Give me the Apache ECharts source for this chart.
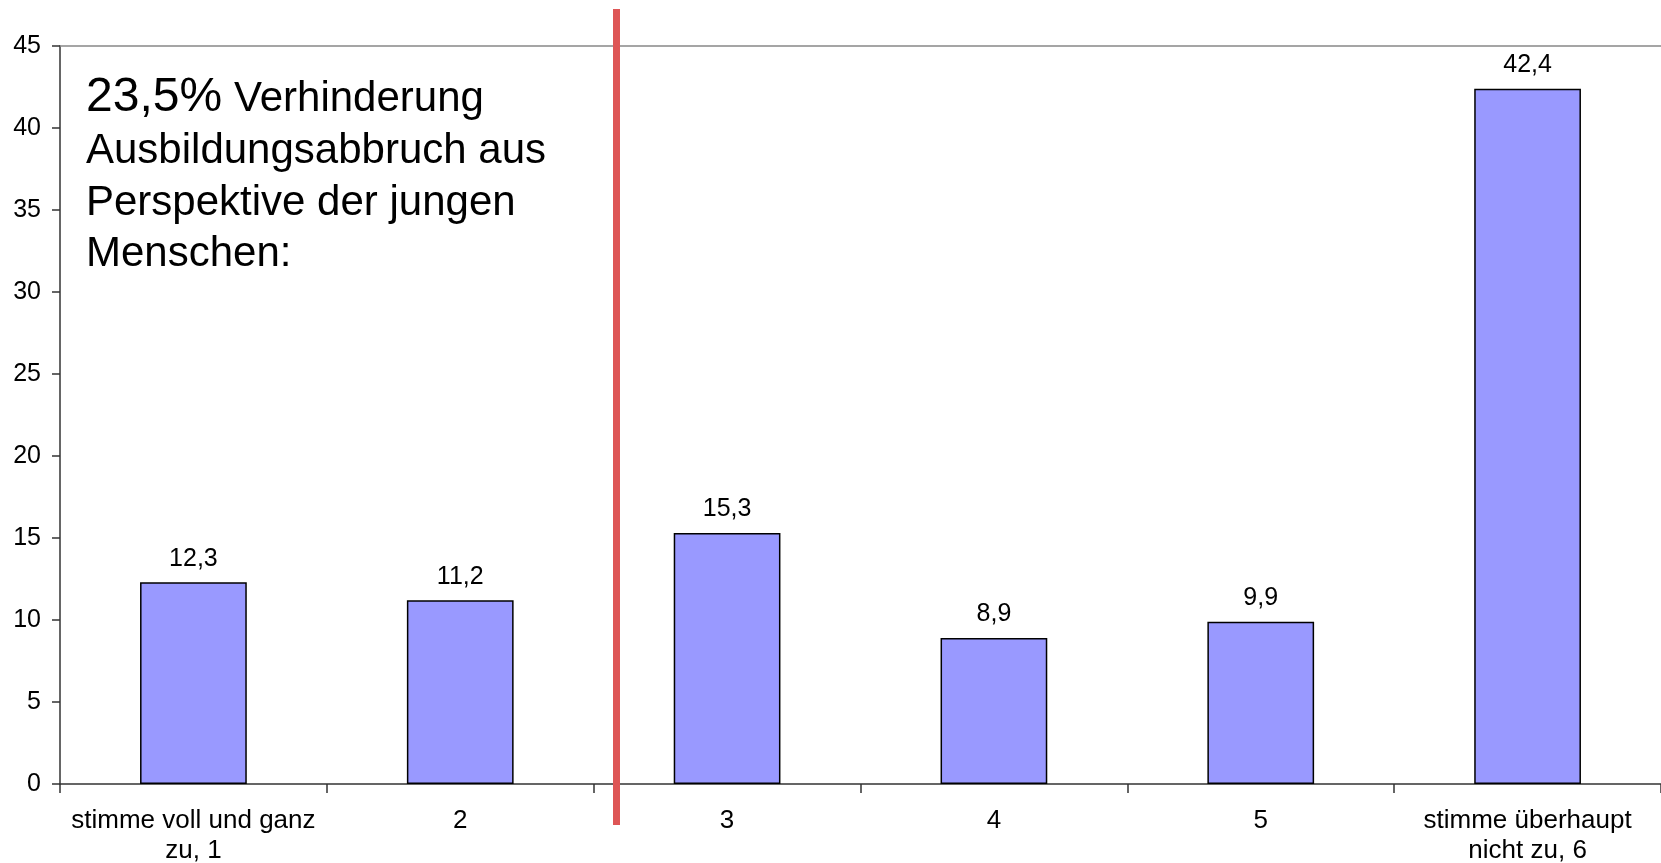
<!DOCTYPE html>
<html>
<head>
<meta charset="utf-8">
<style>
  html, body { margin: 0; padding: 0; background: #fff; }
  #chart { width: 1661px; height: 863px; }
</style>
<script src="https://cdn.jsdelivr.net/npm/echarts@6/dist/echarts.min.js"></script>
</head>
<body>
<div id="chart"></div>
<script>
// Antwortkategorien (Skala 1 bis 6)
const categories = [
  'stimme voll und ganz\nzu, 1',
  '2',
  '3',
  '4',
  '5',
  'stimme überhaupt\nnicht zu, 6'
];
// Anteile in Prozent
const shares = [12.3, 11.2, 15.3, 8.9, 9.9, 42.4];
// Beschriftung des Hinweises
const noteValue = '23,5%';
const noteLines = ['Verhinderung', 'Ausbildungsabbruch aus', 'Perspektive der jungen', 'Menschen:'];

const FONT = "'Liberation Sans', Arial, sans-serif";
const fmt = v => String(v).replace('.', ',');
// Canvas-Mitte liegt etwa 0.3465 em über der Grundlinie
const mid = (baseline, size) => baseline - 0.3465 * size;

const chart = echarts.init(document.getElementById('chart'), null, { renderer: 'canvas' });

chart.setOption({
  backgroundColor: '#ffffff',
  animation: false,
  grid: { left: 60, right: 0, top: 46, bottom: 79, containLabel: false, outerBoundsMode: 'none' },
  xAxis: [
    {
      type: 'category',
      data: categories,
      boundaryGap: true,
      axisLine: { lineStyle: { color: '#333', width: 1.5 } },
      axisTick: { show: true, inside: false, length: 9, lineStyle: { color: '#333', width: 1.5 } },
      axisLabel: { color: '#000', fontFamily: FONT, fontSize: 26, lineHeight: 30, margin: 22, interval: 0 }
    },
    {
      type: 'category',
      position: 'top',
      data: categories,
      axisLine: { show: true, lineStyle: { color: '#888', width: 1.5 } },
      axisTick: { show: false },
      axisLabel: { show: false }
    }
  ],
  yAxis: {
    type: 'value',
    min: 0,
    max: 45,
    interval: 5,
    axisLine: { show: true, lineStyle: { color: '#333', width: 1.5 } },
    axisTick: { show: true, inside: false, length: 8, lineStyle: { color: '#333', width: 1.5 } },
    splitLine: { show: false },
    axisLabel: { color: '#000', fontFamily: FONT, fontSize: 25, margin: 19 }
  },
  series: [{
    type: 'bar',
    data: shares,
    barWidth: '40%',
    itemStyle: { color: '#9999FF', borderColor: '#000', borderWidth: 1.5 },
    label: {
      show: true,
      position: 'top',
      distance: 11,
      color: '#000',
      fontFamily: FONT,
      fontSize: 25,
      formatter: p => fmt(p.value)
    }
  }],
  graphic: [
    // Trennlinie zwischen Kategorie 2 und 3
    { type: 'rect', shape: { x: 613, y: 9, width: 7, height: 816 }, style: { fill: '#DE5656' }, z: 100 },
    { type: 'text', x: 86, y: mid(114, 48), style: { text: noteValue, font: '48px ' + FONT, fill: '#000', textVerticalAlign: 'middle' }, z: 100 },
    { type: 'text', x: 234, y: mid(114, 42), style: { text: noteLines[0], font: '42px ' + FONT, fill: '#000', textVerticalAlign: 'middle' }, z: 100 },
    { type: 'text', x: 86, y: mid(166, 42), style: { text: noteLines[1], font: '42px ' + FONT, fill: '#000', textVerticalAlign: 'middle' }, z: 100 },
    { type: 'text', x: 86, y: mid(217.5, 42), style: { text: noteLines[2], font: '42px ' + FONT, fill: '#000', textVerticalAlign: 'middle' }, z: 100 },
    { type: 'text', x: 86, y: mid(269, 42), style: { text: noteLines[3], font: '42px ' + FONT, fill: '#000', textVerticalAlign: 'middle' }, z: 100 }
  ]
});
</script>
</body>
</html>
